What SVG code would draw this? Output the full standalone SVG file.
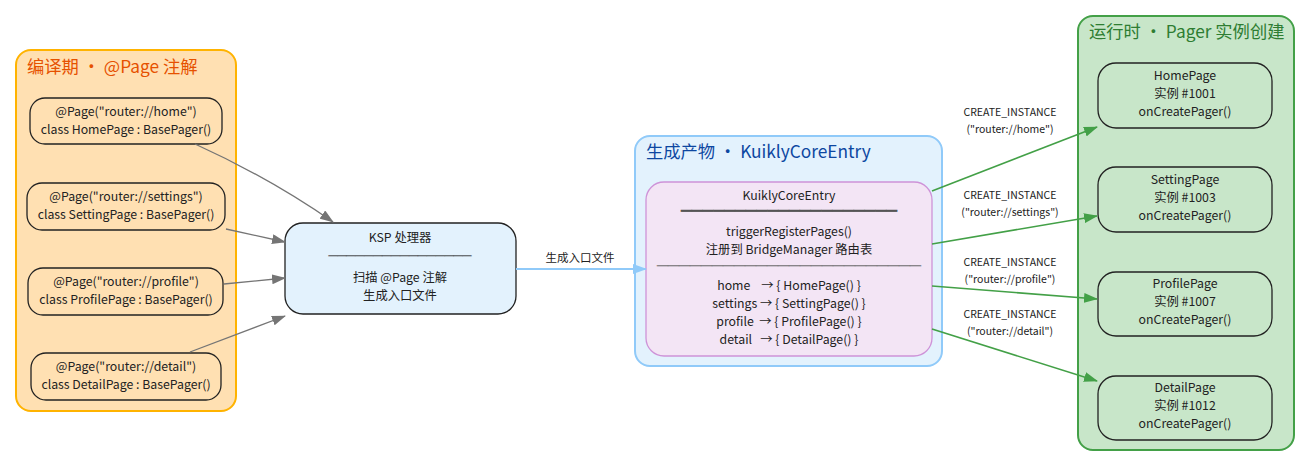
<svg xmlns="http://www.w3.org/2000/svg" width="1298" height="467" viewBox="0 0 1298 467">
<defs>
<marker id="ag" markerWidth="14" markerHeight="10" refX="13" refY="5" orient="auto" markerUnits="userSpaceOnUse"><path d="M0,0 L14,5 L0,10 z" fill="#757575"/></marker>
<marker id="ab" markerWidth="14" markerHeight="10" refX="13" refY="5" orient="auto" markerUnits="userSpaceOnUse"><path d="M0,0 L14,5 L0,10 z" fill="#90CAF9"/></marker>
<marker id="agr" markerWidth="14" markerHeight="10" refX="13" refY="5" orient="auto" markerUnits="userSpaceOnUse"><path d="M0,0 L14,5 L0,10 z" fill="#43A047"/></marker>
</defs>
<style>
text{font-family:"Noto Sans CJK SC","Noto Sans",sans-serif;text-anchor:middle;fill:#222}
.t{font-size:12.3px}
.ttl{font-size:17.3px;text-anchor:start}
.lbl{font-size:10.5px}
.n{stroke:#222;stroke-width:1.3}
.div{fill:#555;font-size:9px;stroke:#555;stroke-width:0.5}
</style>
<rect width="1298" height="467" fill="#fff"/>

<g id="cluster_compile">
<rect x="16" y="50" width="220" height="361" rx="15" fill="#FFE0B2" stroke="#FFB300" stroke-width="2"/>
<text class="ttl" x="27" y="73" style="fill:#E65100">编译期 · @Page 注解</text>
</g>
<g id="cluster_gen">
<rect x="635" y="136" width="307" height="230" rx="15" fill="#E3F2FD" stroke="#90CAF9" stroke-width="2"/>
<text class="ttl" x="646" y="158" style="fill:#0D47A1">生成产物 · KuiklyCoreEntry</text>
</g>
<g id="cluster_runtime">
<rect x="1078" y="16" width="216" height="434" rx="15" fill="#C8E6C9" stroke="#43A047" stroke-width="2"/>
<text class="ttl" x="1089" y="38" style="fill:#2E7D32">运行时 · Pager 实例创建</text>
</g>

<g id="page_home">
<rect class="n" x="30" y="98" width="192" height="46" rx="15" fill="#FFE0B2"/>
<text class="t" x="126" y="116">@Page("router://home")</text>
<text class="t" x="126" y="134">class HomePage : BasePager()</text>
</g>
<g id="page_settings">
<rect class="n" x="27" y="183" width="198" height="47" rx="15" fill="#FFE0B2"/>
<text class="t" x="126" y="201">@Page("router://settings")</text>
<text class="t" x="126" y="219">class SettingPage : BasePager()</text>
</g>
<g id="page_profile">
<rect class="n" x="28" y="268" width="195" height="47" rx="15" fill="#FFE0B2"/>
<text class="t" x="126" y="286">@Page("router://profile")</text>
<text class="t" x="126" y="304">class ProfilePage : BasePager()</text>
</g>
<g id="page_detail">
<rect class="n" x="31" y="353" width="190" height="47" rx="15" fill="#FFE0B2"/>
<text class="t" x="126" y="371">@Page("router://detail")</text>
<text class="t" x="126" y="389">class DetailPage : BasePager()</text>
</g>

<g id="ksp">
<rect class="n" x="285" y="223" width="231" height="91" rx="18" fill="#E3F2FD"/>
<text class="t" x="400" y="242">KSP 处理器</text>
<text class="div" x="400" y="259" style="fill:#333;stroke:#333" textLength="143" lengthAdjust="spacingAndGlyphs">────────────────</text>
<text class="t" x="400" y="282">扫描 @Page 注解</text>
<text class="t" x="400" y="300">生成入口文件</text>
</g>

<g id="entry">
<rect x="646" y="182" width="286" height="174" rx="18" fill="#F3E5F5" stroke="#CE93D8" stroke-width="1.3"/>
<text class="t" x="789" y="200">KuiklyCoreEntry</text>
<text class="div" x="789" y="214" textLength="216" lengthAdjust="spacingAndGlyphs">════════════════════</text>
<text class="t" x="789" y="236">triggerRegisterPages()</text>
<text class="t" x="789" y="254">注册到 BridgeManager 路由表</text>
<text class="div" x="789" y="269" textLength="264" lengthAdjust="spacingAndGlyphs">────────────────────────</text>
<text class="t" x="789" y="290" xml:space="preserve">home    → { HomePage() }</text>
<text class="t" x="789" y="308">settings → { SettingPage() }</text>
<text class="t" x="789" y="326" xml:space="preserve">profile  → { ProfilePage() }</text>
<text class="t" x="789" y="344" xml:space="preserve">detail   → { DetailPage() }</text>
</g>

<g id="inst_home">
<rect class="n" x="1098" y="63" width="174" height="65" rx="18" fill="#C8E6C9"/>
<text class="t" x="1185" y="80">HomePage</text>
<text class="t" x="1185" y="98">实例 #1001</text>
<text class="t" x="1185" y="116">onCreatePager()</text>
</g>
<g id="inst_settings">
<rect class="n" x="1098" y="167" width="174" height="65" rx="18" fill="#C8E6C9"/>
<text class="t" x="1185" y="184">SettingPage</text>
<text class="t" x="1185" y="202">实例 #1003</text>
<text class="t" x="1185" y="220">onCreatePager()</text>
</g>
<g id="inst_profile">
<rect class="n" x="1098" y="272" width="174" height="64" rx="18" fill="#C8E6C9"/>
<text class="t" x="1185" y="288">ProfilePage</text>
<text class="t" x="1185" y="306">实例 #1007</text>
<text class="t" x="1185" y="324">onCreatePager()</text>
</g>
<g id="inst_detail">
<rect class="n" x="1098" y="376" width="174" height="64" rx="18" fill="#C8E6C9"/>
<text class="t" x="1185" y="392">DetailPage</text>
<text class="t" x="1185" y="410">实例 #1012</text>
<text class="t" x="1185" y="428">onCreatePager()</text>
</g>

<g id="edges" fill="none">
<path d="M195,144 Q270,178 333,222" stroke="#757575" stroke-width="1.3" marker-end="url(#ag)"/>
<path d="M226,229 L285,242" stroke="#757575" stroke-width="1.3" marker-end="url(#ag)"/>
<path d="M224,284 L285,278" stroke="#757575" stroke-width="1.3" marker-end="url(#ag)"/>
<path d="M190,352 L285,316" stroke="#757575" stroke-width="1.3" marker-end="url(#ag)"/>
<path d="M516,269 L646,269" stroke="#90CAF9" stroke-width="2" marker-end="url(#ab)"/>
<path d="M932,191 L1097,127" stroke="#43A047" stroke-width="1.6" marker-end="url(#agr)"/>
<path d="M932,244 L1097,216" stroke="#43A047" stroke-width="1.6" marker-end="url(#agr)"/>
<path d="M932,286 L1097,299" stroke="#43A047" stroke-width="1.6" marker-end="url(#agr)"/>
<path d="M932,329 L1097,381" stroke="#43A047" stroke-width="1.6" marker-end="url(#agr)"/>
<text class="t" x="580" y="262" style="font-size:11.5px">生成入口文件</text>
<text class="lbl" x="1010" y="116">CREATE_INSTANCE</text>
<text class="lbl" x="1010" y="133">("router://home")</text>
<text class="lbl" x="1010" y="199">CREATE_INSTANCE</text>
<text class="lbl" x="1010" y="216">("router://settings")</text>
<text class="lbl" x="1010" y="266">CREATE_INSTANCE</text>
<text class="lbl" x="1010" y="283">("router://profile")</text>
<text class="lbl" x="1010" y="318">CREATE_INSTANCE</text>
<text class="lbl" x="1010" y="335">("router://detail")</text>
</g>
</svg>
